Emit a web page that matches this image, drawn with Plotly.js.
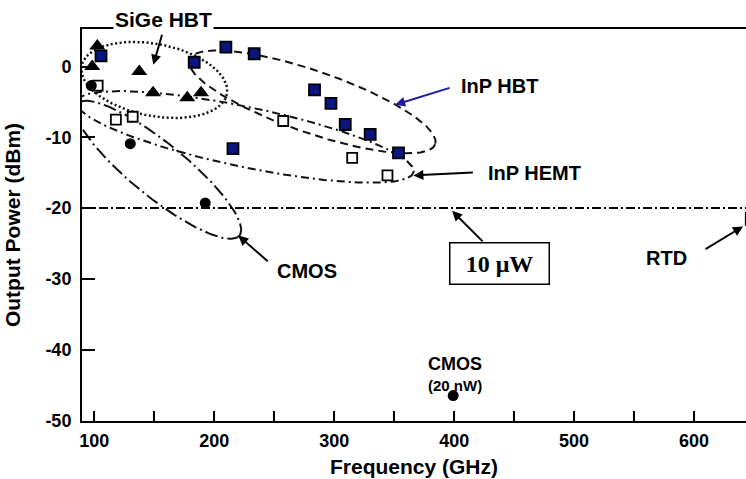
<!DOCTYPE html>
<html>
<head>
<meta charset="utf-8">
<script src="https://cdn.plot.ly/plotly-3.0.1.min.js"></script>
<style>html,body{margin:0;padding:0;background:#fff;}#chart{width:746px;height:479px;}</style>
</head>
<body>
<div id="chart"></div>
<script>
// ---------------- data ----------------
const sigeFreq = [98.3, 102.5, 137.5, 149, 177.5, 189];
const sigePow  = [0.0, 2.9, -0.7, -3.7, -4.4, -3.7];

const inpHbtFreq = [105.6, 183.3, 209.7, 233.3, 283.6, 297.3, 309.2, 330, 353.6, 215.6];
const inpHbtPow  = [1.5, 0.6, 2.75, 1.8, -3.3, -5.2, -8.2, -9.6, -12.2, -11.6];

const inpHemtFreq = [102.8, 118, 132, 257.5, 315, 344.4];
const inpHemtPow  = [-2.7, -7.5, -7.1, -7.7, -12.9, -15.4];

const cmosFreq = [97.5, 130, 192.5, 399.2];
const cmosPow  = [-2.7, -10.9, -19.3, -46.5];

const rtdFreq = [643];
const rtdPow  = [-21.5];

const refLevel = -20;           // 10 uW line (dBm)

const xTickVals = [100, 200, 300, 400, 500, 600];
const xTickText = ['100', '200', '300', '400', '500', '600'];
const yTickVals = [0, -10, -20, -30, -40, -50];
const yTickText = ['0', '-10', '-20', '-30', '-40', '-50'];

// group outlines: centre (data units), semi-axes (px), tilt (deg, clockwise on screen)
const groupNames  = ['SiGe HBT', 'InP HBT', 'InP HEMT', 'CMOS'];
const groupCenterX = [150, 281.7, 225.8, 153.3];
const groupCenterY = [-1.9, -5.0, -9.95, -14.6];
const groupSemiA   = [74, 130, 172, 104.5];
const groupSemiB   = [36, 31, 30, 27];
const groupTilt    = [11, 19, 11.8, 39];

// ---------------- layout constants ----------------
const W = 746, H = 479;
const M = {l: 82, r: 0, t: 29, b: 58};
const xRange = [89.75, 643.3];
const yRange = [-50.1, 5.3];
const kx = (W - M.l - M.r) / (xRange[1] - xRange[0]);
const ky = (H - M.t - M.b) / (yRange[1] - yRange[0]);

const styles = [
  {dash: '2px,2.5px', width: 2.5},
  {dash: '8px,5px', width: 2},
  {dash: '8px,4px,2px,4px', width: 2},
  {dash: '13px,4px,2px,4px', width: 2}
];

function outline(i) {
  const xs = [], ys = [];
  const th = groupTilt[i] * Math.PI / 180;
  const a = groupSemiA[i], b = groupSemiB[i];
  for (let k = 0; k <= 180; k++) {
    const t = 2 * Math.PI * k / 180;
    const dxp = a * Math.cos(t) * Math.cos(th) - b * Math.sin(t) * Math.sin(th);
    const dyp = a * Math.cos(t) * Math.sin(th) + b * Math.sin(t) * Math.cos(th);
    xs.push(groupCenterX[i] + dxp / kx);
    ys.push(groupCenterY[i] - dyp / ky);
  }
  return {x: xs, y: ys, mode: 'lines', hoverinfo: 'skip', name: groupNames[i] + ' region',
          line: {color: '#111', width: styles[i].width, dash: styles[i].dash}};
}

const traces = [];
for (let i = 0; i < groupNames.length; i++) traces.push(outline(i));

traces.push({x: inpHemtFreq, y: inpHemtPow, mode: 'markers', name: 'InP HEMT',
  marker: {symbol: 'square', size: 10, color: '#fff', line: {color: '#000', width: 1.8}}});
traces.push({x: inpHbtFreq, y: inpHbtPow, mode: 'markers', name: 'InP HBT',
  marker: {symbol: 'square', size: 11, color: '#0a167e', line: {color: '#000', width: 1.8}}});
traces.push({x: sigeFreq, y: sigePow, mode: 'markers', name: 'SiGe HBT',
  marker: {symbol: 'triangle-up', size: 14, color: '#000', line: {width: 0}}});
traces.push({x: cmosFreq, y: cmosPow, mode: 'markers', name: 'CMOS',
  marker: {symbol: 'circle', size: 11, color: '#000', line: {width: 0}}});
traces.push({x: rtdFreq, y: rtdPow, mode: 'markers', name: 'RTD', cliponaxis: false,
  marker: {symbol: 'line-ns', size: 10, color: '#000', line: {color: '#000', width: 1.5}}});

const bold = {family: 'Liberation Sans, Arial, sans-serif', size: 15, color: '#000', weight: 'bold'};
function label(text, x, y, size) {
  return {text: text, x: x, y: y, xref: 'x', yref: 'y', showarrow: false,
          font: Object.assign({}, bold, {size: size || 20}), xanchor: 'center', yanchor: 'middle'};
}
function arrow(x, y, ax, ay, color) {
  return {text: ' ', x: x, y: y, ax: ax, ay: ay, xref: 'x', yref: 'y', showarrow: true,
          font: {size: 1}, borderpad: 0,
          arrowhead: 2, arrowsize: 1, arrowwidth: 2, arrowcolor: color || '#000', standoff: 0, startstandoff: 0};
}

const annotations = [
  {text: 'SiGe HBT', x: 157.5, y: 1, xref: 'x', yref: 'paper',
   showarrow: false, font: Object.assign({}, bold, {size: 21}), bgcolor: '#fff', borderpad: 1,
   xanchor: 'center', yanchor: 'middle'},
  arrow(149.2, 0.25, 9, -31),
  label('InP HBT', 438, -2.7),
  arrow(350.8, -5.4, 55, -17, '#1c1ca0'),
  label('InP HEMT', 467, -15.0),
  arrow(366, -15.4, 60, -3),
  label('CMOS', 277.5, -28.9),
  arrow(220, -23.9, 30, 26),
  {text: '10 \u03bcW', x: 438, y: -27.9, xref: 'x', yref: 'y', showarrow: false,
   font: {family: 'Liberation Serif, Times New Roman, serif', size: 24, color: '#000', weight: 'bold'},
   bordercolor: '#000', borderwidth: 1.5, borderpad: 5, bgcolor: '#fff', width: 88, height: 30},
  arrow(398.3, -20.4, 31, 31),
  label('RTD', 577, -27.0),
  arrow(640.8, -22.6, -38, 23),
  label('CMOS', 400.8, -42.1, 18),
  label('(20 nW)', 400.8, -45.1, 15)
];
// SiGe label sits on the top frame line: 20 px from the top of the page
annotations[0].y = (H - M.b - 20) / (H - M.t - M.b);

const layout = {
  width: W, height: H, margin: M,
  paper_bgcolor: '#fff', plot_bgcolor: '#fff',
  showlegend: false,
  font: bold,
  xaxis: {
    range: xRange, showgrid: false, zeroline: false,
    showline: true, linecolor: '#000', linewidth: 2, mirror: true,
    tickmode: 'array', tickvals: xTickVals, ticktext: xTickText,
    ticks: 'inside', ticklen: 10, tickwidth: 2, tickcolor: '#000',
    minor: {dtick: 50, tick0: 0, ticks: 'inside', ticklen: 10, tickwidth: 2, tickcolor: '#000', showgrid: false},
    tickfont: Object.assign({}, bold, {size: 18}), ticklabelstandoff: 2,
    title: {text: 'Frequency (GHz)', font: Object.assign({}, bold, {size: 21}), standoff: 10}
  },
  yaxis: {
    range: yRange, showgrid: false, zeroline: false,
    showline: true, linecolor: '#000', linewidth: 2,
    tickmode: 'array', tickvals: yTickVals, ticktext: yTickText,
    ticks: 'inside', ticklen: 13, tickwidth: 2, tickcolor: '#000',
    tickfont: Object.assign({}, bold, {size: 18}), ticklabelstandoff: 5,
    title: {text: 'Output Power (dBm)', font: Object.assign({}, bold, {size: 21}), standoff: 19}
  },
  shapes: [{type: 'line', xref: 'paper', x0: 0, x1: 1, yref: 'y', y0: refLevel, y1: refLevel,
            line: {color: '#000', width: 2, dash: '9px,3px,2px,3px'}}],
  annotations: annotations
};

Plotly.newPlot('chart', traces, layout, {displayModeBar: false, staticPlot: true});
</script>
</body>
</html>
